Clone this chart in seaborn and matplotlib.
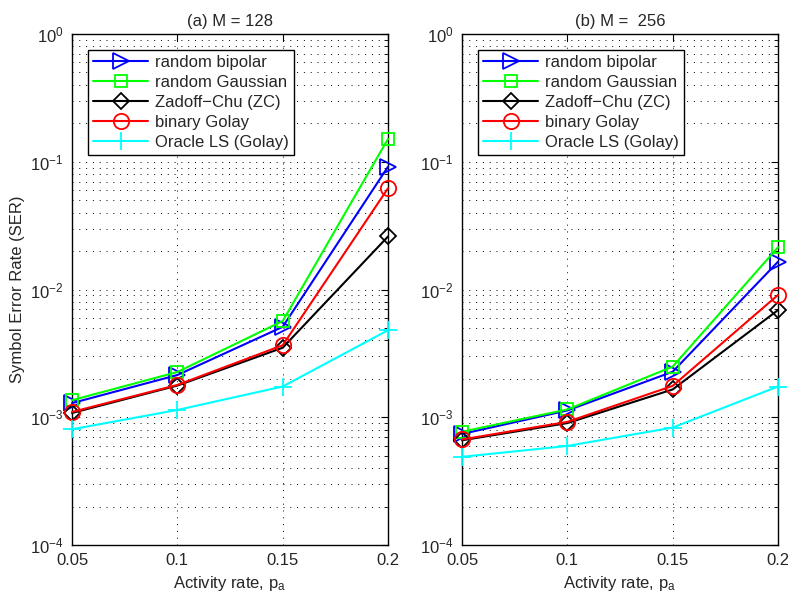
import matplotlib
matplotlib.use("Agg")
import matplotlib.pyplot as plt
import seaborn as sns
import pandas as pd
import numpy as np
from matplotlib.ticker import LogLocator, FixedLocator, NullFormatter

sns.set_style("white")
plt.rcParams['font.family'] = ['Liberation Sans', 'DejaVu Sans']
plt.rcParams['mathtext.fontset'] = 'custom'
plt.rcParams['mathtext.rm'] = 'Liberation Sans'
plt.rcParams['mathtext.it'] = 'Liberation Sans'

activity = [0.05, 0.1, 0.15, 0.2]
series_names = ["random bipolar", "random Gaussian", "Zadoff\u2212Chu (ZC)", "binary Golay", "Oracle LS (Golay)"]

# (a) M = 128
m128_bipolar = [1.29e-3, 2.14e-3, 5.1e-3, 0.0915]
m128_gauss = [1.36e-3, 2.26e-3, 5.66e-3, 0.151]
m128_zc = [1.08e-3, 1.77e-3, 3.5e-3, 0.026]
m128_golay = [1.1e-3, 1.79e-3, 3.66e-3, 0.062]
m128_oracle = [8.05e-4, 1.14e-3, 1.74e-3, 4.8e-3]

# (b) M = 256
m256_bipolar = [7.4e-4, 1.13e-3, 2.27e-3, 0.0165]
m256_gauss = [7.7e-4, 1.15e-3, 2.49e-3, 0.0214]
m256_zc = [6.6e-4, 9.0e-4, 1.65e-3, 6.9e-3]
m256_golay = [6.7e-4, 9.2e-4, 1.76e-3, 9.06e-3]
m256_oracle = [4.9e-4, 5.96e-4, 8.3e-4, 1.74e-3]

titles = ["(a) M = 128", "(b) M =  256"]
colors = ["#0000ff", "#00ff00", "#000000", "#ff0000", "#00ffff"]
markers = [">", "s", "D", "o", "+"]
msizes = [12, 9, 8, 11, 13]

panels = [
    [m128_bipolar, m128_gauss, m128_zc, m128_golay, m128_oracle],
    [m256_bipolar, m256_gauss, m256_zc, m256_golay, m256_oracle],
]

fig = plt.figure(figsize=(7.88, 6.0), dpi=100)
ax_rects = [[0.0914, 0.0917, 0.401, 0.8516], [0.5863, 0.0917, 0.401, 0.8516]]

for pi, (rect, vals, title) in enumerate(zip(ax_rects, panels, titles)):
    ax = fig.add_axes(rect)
    for name, v, c, m, ms in zip(series_names, vals, colors, markers, msizes):
        df = pd.DataFrame({"x": activity, "y": v})
        sns.lineplot(data=df, x="x", y="y", ax=ax, color=c, marker=m,
                     markersize=ms, markerfacecolor="none",
                     markeredgecolor=c, markeredgewidth=1.3, linewidth=1.5,
                     label=name, estimator=None, clip_on=False, zorder=3)
    ax.set_yscale("log")
    ax.set_ylim(1e-4, 1e0)
    ax.set_xlim(0.05, 0.2)
    ax.xaxis.set_major_locator(FixedLocator(activity))
    ax.set_xticklabels(["0.05", "0.1", "0.15", "0.2"])
    ax.yaxis.set_minor_locator(LogLocator(base=10, subs=np.arange(2, 10), numticks=20))
    ax.yaxis.set_minor_formatter(NullFormatter())
    ax.set_yticks([1e-4, 1e-3, 1e-2, 1e-1, 1e0])
    ax.set_yticklabels([r"$10^{-4}$", r"$10^{-3}$", r"$10^{-2}$", r"$10^{-1}$", r"$10^{0}$"])
    ax.tick_params(which="both", direction="in", top=True, right=True, labelsize=12, color="black")
    ax.tick_params(which="major", length=5, pad=6)
    ax.tick_params(which="minor", length=3)
    ax.grid(True, which="major", axis="both", linestyle=(0, (1, 6)), color="black", linewidth=0.7)
    ax.grid(True, which="minor", axis="y", linestyle=(0, (1, 6)), color="black", linewidth=0.7)
    ax.set_axisbelow(True)
    for s in ax.spines.values():
        s.set_color("black")
        s.set_linewidth(1.0)
        s.set_zorder(2.5)
    ax.set_title(title, fontsize=12, pad=6)
    ax.set_xlabel(r"Activity rate, p$_a$", fontsize=12, labelpad=4)
    if pi == 0:
        ax.set_ylabel("Symbol Error Rate (SER)", fontsize=12, labelpad=4)
    else:
        ax.set_ylabel("")
    leg = ax.legend(loc="upper left", fontsize=12, handlelength=3.3, labelspacing=0.3,
                    borderpad=0.3, handletextpad=0.4, fancybox=False, framealpha=1,
                    edgecolor="black", bbox_to_anchor=(0.025, 0.985))
    leg.get_frame().set_linewidth(1.0)
    leg.set_zorder(5)

fig.savefig("out.png", dpi=100)
